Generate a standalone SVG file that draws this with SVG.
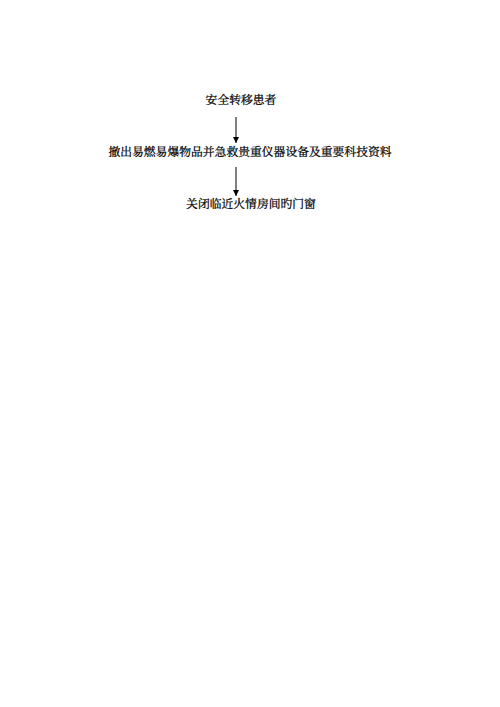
<svg xmlns="http://www.w3.org/2000/svg" width="500" height="707" viewBox="0 0 500 707">
<style>
text{font-family:"Noto Serif CJK SC","Noto Sans CJK SC",serif;font-size:11.8px;fill:#000;stroke:#000;stroke-width:0.25;text-anchor:middle}
.c{stroke:#000;stroke-width:1;fill:none}
</style>
<defs>
<marker id="ah" markerWidth="8" markerHeight="8" refX="6" refY="3" orient="auto" markerUnits="userSpaceOnUse">
<path d="M0,0 L6,3 L0,6 Z" fill="#000"/>
</marker>
</defs>
<rect width="500" height="707" fill="#fff"/>
<g id="connectors">
<line class="c" x1="236" y1="117" x2="236" y2="143" marker-end="url(#ah)"/>
<line class="c" x1="236" y1="167" x2="236" y2="196" marker-end="url(#ah)"/>
</g>
<g id="n1"><text x="241" y="104">安全转移患者</text></g>
<g id="n2"><text x="250" y="156">撤出易燃易爆物品并急救贵重仪器设备及重要科技资料</text></g>
<g id="n3"><text x="251" y="208">关闭临近火情房间旳门窗</text></g>
</svg>
